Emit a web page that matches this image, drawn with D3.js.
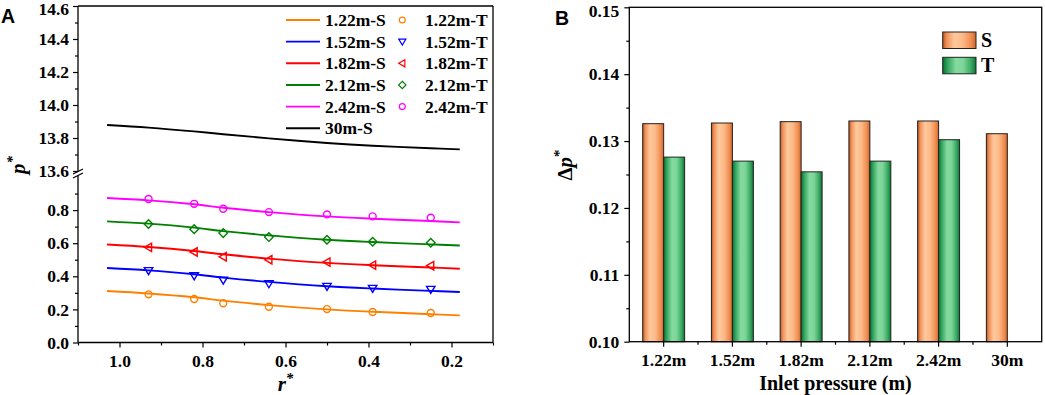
<!DOCTYPE html>
<html><head><meta charset="utf-8">
<script src="https://cdn.jsdelivr.net/npm/d3@7"></script>
<style>
body{margin:0;background:#fff;}
svg{display:block;}
text{font-family:"Liberation Serif","Times New Roman",serif;font-weight:bold;fill:#000;}
</style></head>
<body>
<svg id="c" width="1045" height="395"></svg>
<script>
// ---------- Data: panel A ----------
const rS = [1.03, 0.93, 0.82, 0.75, 0.64, 0.50, 0.39, 0.25, 0.18];
const rT = [0.93, 0.82, 0.75, 0.64, 0.50, 0.39, 0.25];
const s122 = [0.311, 0.296, 0.273, 0.253, 0.226, 0.200, 0.186, 0.171, 0.164];
const s152 = [0.450, 0.436, 0.412, 0.392, 0.366, 0.340, 0.326, 0.312, 0.305];
const s182 = [0.592, 0.577, 0.553, 0.533, 0.507, 0.481, 0.467, 0.453, 0.446];
const s212 = [0.732, 0.718, 0.694, 0.673, 0.647, 0.621, 0.607, 0.593, 0.586];
const s242 = [0.873, 0.859, 0.835, 0.814, 0.788, 0.762, 0.748, 0.734, 0.726];
const s30  = [13.879, 13.863, 13.840, 13.823, 13.798, 13.770, 13.753, 13.738, 13.731];
const t122 = [0.291, 0.263, 0.237, 0.216, 0.202, 0.184, 0.178];
const t152 = [0.434, 0.403, 0.377, 0.355, 0.339, 0.327, 0.321];
const t182 = [0.575, 0.547, 0.518, 0.500, 0.486, 0.468, 0.464];
const t212 = [0.716, 0.685, 0.661, 0.637, 0.621, 0.609, 0.603];
const t242 = [0.867, 0.838, 0.808, 0.788, 0.774, 0.762, 0.754];
const sLabels = ["1.22m-S", "1.52m-S", "1.82m-S", "2.12m-S", "2.42m-S", "30m-S"];
const tLabels = ["1.22m-T", "1.52m-T", "1.82m-T", "2.12m-T", "2.42m-T"];
const xTicksA = [1.0, 0.8, 0.6, 0.4, 0.2];
const xMinorA = [1.1, 0.9, 0.7, 0.5, 0.3, 0.1];
const yTicksLow = [0.0, 0.2, 0.4, 0.6, 0.8];
const yMinorLow = [0.1, 0.3, 0.5, 0.7, 0.9];
const yTicksUp = [13.6, 13.8, 14.0, 14.2, 14.4, 14.6];
const yMinorUp = [13.7, 13.9, 14.1, 14.3, 14.5];

// ---------- Data: panel B ----------
const categories = ["1.22m", "1.52m", "1.82m", "2.12m", "2.42m", "30m"];
const barS = [0.1326, 0.1327, 0.1329, 0.1330, 0.1330, 0.1311];
const barT = [0.1276, 0.1270, 0.1254, 0.1270, 0.1302, null];
const yTicksB = [0.10, 0.11, 0.12, 0.13, 0.14, 0.15];
const yMinorB = [0.105, 0.115, 0.125, 0.135, 0.145];

const svg = d3.select("#c");
const defs = svg.append("defs");

// ================= PANEL A =================
const A = {left: 78, right: 493, top: 6, bottom: 342.5};
const xA = d3.scaleLinear().domain([1.1, 0.1]).range([A.left, A.right]);
const yLow = d3.scaleLinear().domain([0, 1.0]).range([A.bottom, 177]);
const yUp = d3.scaleLinear().domain([13.6, 14.6]).range([171, A.top]);

const gA = svg.append("g");
gA.append("line").attr("x1", A.left).attr("x2", A.right).attr("y1", A.top).attr("y2", A.top).attr("stroke", "#000").attr("stroke-width", 1.3);
gA.append("line").attr("x1", A.right).attr("x2", A.right).attr("y1", A.top).attr("y2", A.bottom).attr("stroke", "#000").attr("stroke-width", 1.3);
gA.append("line").attr("x1", A.left).attr("x2", A.right).attr("y1", A.bottom).attr("y2", A.bottom).attr("stroke", "#000").attr("stroke-width", 1.3);
gA.append("line").attr("x1", A.left).attr("x2", A.left).attr("y1", A.top).attr("y2", 171.5).attr("stroke", "#000").attr("stroke-width", 1.3);
gA.append("line").attr("x1", A.left).attr("x2", A.left).attr("y1", 175.5).attr("y2", A.bottom).attr("stroke", "#000").attr("stroke-width", 1.3);
[171.5, 175.5].forEach(y => {
  gA.append("line").attr("x1", A.left - 5).attr("x2", A.left + 5).attr("y1", y + 2.5).attr("y2", y - 2.5)
    .attr("stroke", "#000").attr("stroke-width", 1.2);
});

function styleAxis(g) {
  g.select(".domain").remove();
  g.selectAll(".tick line").attr("stroke", "#000").attr("stroke-width", 1.2);
  g.selectAll(".tick text").attr("font-size", "17.5px").attr("font-family", "'Liberation Serif',serif").attr("font-weight", "bold").attr("fill", "#000");
}
// keep the topmost tick label inside the picture
function nudgeTop(g, topVal) {
  g.selectAll(".tick").filter(d => Math.abs(d - topVal) < 1e-9).select("text").attr("dy", "0.5em");
}
const fmt1 = d3.format(".1f");
gA.append("g").attr("transform", `translate(${A.left},0)`)
  .call(d3.axisLeft(yUp).tickValues(yTicksUp).tickSize(5).tickPadding(4).tickFormat(fmt1)).call(styleAxis)
  .call(g => nudgeTop(g, 14.6));
gA.append("g").attr("transform", `translate(${A.left},0)`)
  .call(d3.axisLeft(yUp).tickValues(yMinorUp).tickSize(3).tickFormat("")).call(styleAxis);
gA.append("g").attr("transform", `translate(${A.left},0)`)
  .call(d3.axisLeft(yLow).tickValues(yTicksLow).tickSize(5).tickPadding(4).tickFormat(fmt1)).call(styleAxis);
gA.append("g").attr("transform", `translate(${A.left},0)`)
  .call(d3.axisLeft(yLow).tickValues(yMinorLow).tickSize(3).tickFormat("")).call(styleAxis);
gA.append("g").attr("transform", `translate(0,${A.bottom})`)
  .call(d3.axisBottom(xA).tickValues(xTicksA).tickSize(5).tickPadding(7).tickFormat(fmt1)).call(styleAxis);
gA.append("g").attr("transform", `translate(0,${A.bottom})`)
  .call(d3.axisBottom(xA).tickValues(xMinorA).tickSize(3).tickFormat("")).call(styleAxis);

const colors = ["#FF8000", "#0000FF", "#FF0000", "#008000", "#FF00FF", "#000000"];
const sSeries = [s122, s152, s182, s212, s242];
const tSeries = [t122, t152, t182, t212, t242];
const shapes = ["circle", "tdown", "tleft", "diamond", "circle"];

const lineLow = d3.line().x(d => xA(d[0])).y(d => yLow(d[1])).curve(d3.curveCatmullRom);
const lineUp = d3.line().x(d => xA(d[0])).y(d => yUp(d[1])).curve(d3.curveCatmullRom);
sSeries.forEach((s, i) => {
  gA.append("path").datum(rS.map((r, j) => [r, s[j]])).attr("d", lineLow)
    .attr("fill", "none").attr("stroke", colors[i]).attr("stroke-width", 1.9);
});
gA.append("path").datum(rS.map((r, j) => [r, s30[j]])).attr("d", lineUp)
  .attr("fill", "none").attr("stroke", "#000").attr("stroke-width", 1.9);

function markerPath(shape) {
  if (shape === "circle") return d3.symbol(d3.symbolCircle, 38)();
  if (shape === "diamond") return "M0,-4.3L4.3,0L0,4.3L-4.3,0Z";
  if (shape === "tdown") return "M-4.2,-3L4.2,-3L0,4Z";
  if (shape === "tleft") return "M-4.2,0L3,-4.2L3,4.2Z";
}
tSeries.forEach((t, i) => {
  gA.selectAll(null).data(rT.map((r, j) => [r, t[j]])).enter().append("path")
    .attr("d", markerPath(shapes[i]))
    .attr("transform", d => `translate(${xA(d[0])},${yLow(d[1])})`)
    .attr("fill", "none").attr("stroke", colors[i]).attr("stroke-width", 1.4);
});

// legend A
const legRow0 = 20, legStep = 21.65;
sLabels.forEach((lab, i) => {
  const y = legRow0 + i * legStep;
  gA.append("line").attr("x1", 286).attr("x2", 320).attr("y1", y).attr("y2", y).attr("stroke", colors[i]).attr("stroke-width", 1.9);
  gA.append("text").attr("x", 325).attr("y", y + 6).attr("font-size", "17.5px").text(lab);
});
tLabels.forEach((lab, i) => {
  const y = legRow0 + i * legStep;
  gA.append("path").attr("d", markerPath(shapes[i]))
    .attr("fill", "none").attr("stroke", colors[i]).attr("stroke-width", 1.4)
    .attr("transform", `translate(402.3,${y}) scale(0.85)`);
  gA.append("text").attr("x", 425).attr("y", y + 6).attr("font-size", "17.5px").text(lab);
});

// axis titles A
const yt = gA.append("text").attr("transform", "translate(25,165) rotate(-90)").attr("text-anchor", "middle")
  .attr("font-size", "21px").attr("font-style", "italic");
yt.append("tspan").text("p");
yt.append("tspan").attr("dy", "-8").attr("font-size", "15px").text("*");
const xt = gA.append("text").attr("x", 285.5).attr("y", 391).attr("text-anchor", "middle")
  .attr("font-size", "21px").attr("font-style", "italic");
xt.append("tspan").text("r");
xt.append("tspan").attr("dy", "-8").attr("font-size", "15px").text("*");

svg.append("text").attr("x", 1).attr("y", 23).attr("font-size", "19.5px")
  .style("font-family", "'Liberation Sans',Arial,sans-serif").text("A");

// ================= PANEL B =================
const B = {left: 629.3, right: 1041.7, top: 7.3, bottom: 341.7};
const xB = d3.scaleBand().domain(categories).range([B.left, B.right]).padding(0);
const yB = d3.scaleLinear().domain([0.10, 0.15]).range([B.bottom, B.top]);
const gB = svg.append("g");

function grad(id, stops) {
  const g = defs.append("linearGradient").attr("id", id).attr("x1", "0").attr("x2", "1").attr("y1", "0").attr("y2", "0");
  stops.forEach(s => g.append("stop").attr("offset", s[0]).attr("stop-color", s[1]));
}
grad("gS", [["0", "#BF531B"], ["0.12", "#EE9058"], ["0.35", "#FFC99C"], ["0.6", "#FDBA88"], ["0.85", "#F08E52"], ["1", "#D3652A"]]);
grad("gT", [["0", "#06712F"], ["0.15", "#33A65E"], ["0.4", "#85DAA0"], ["0.62", "#7CD598"], ["0.85", "#3AAA62"], ["1", "#0B7638"]]);

const bw = xB.bandwidth() * 0.305;
gB.selectAll(".bs").data(categories).enter().append("rect")
  .attr("x", d => xB(d) + xB.bandwidth() / 2 - bw)
  .attr("width", bw)
  .attr("y", (d, i) => yB(barS[i]))
  .attr("height", (d, i) => yB(0.10) - yB(barS[i]))
  .attr("fill", "url(#gS)").attr("stroke", "#222").attr("stroke-width", 1);
gB.selectAll(".bt").data(categories.filter((d, i) => barT[i] != null)).enter().append("rect")
  .attr("x", d => xB(d) + xB.bandwidth() / 2)
  .attr("width", bw)
  .attr("y", (d, i) => yB(barT[i]))
  .attr("height", (d, i) => yB(0.10) - yB(barT[i]))
  .attr("fill", "url(#gT)").attr("stroke", "#222").attr("stroke-width", 1);

gB.append("rect").attr("x", B.left).attr("y", B.top).attr("width", B.right - B.left).attr("height", B.bottom - B.top)
  .attr("fill", "none").attr("stroke", "#000").attr("stroke-width", 1.3);

const fmt2 = d3.format(".2f");
gB.append("g").attr("transform", `translate(${B.left},0)`)
  .call(d3.axisLeft(yB).tickValues(yTicksB).tickSize(5).tickPadding(5).tickFormat(fmt2)).call(styleAxis)
  .call(g => nudgeTop(g, 0.15));
gB.append("g").attr("transform", `translate(${B.left},0)`)
  .call(d3.axisLeft(yB).tickValues(yMinorB).tickSize(3).tickFormat("")).call(styleAxis);
gB.append("g").attr("transform", `translate(0,${B.bottom})`)
  .call(d3.axisBottom(xB).tickSize(5).tickPadding(7)).call(styleAxis);
const bounds = categories.slice(1).map(d => xB(d));
gB.append("g").selectAll("line").data(bounds).enter().append("line")
  .attr("x1", d => d).attr("x2", d => d).attr("y1", B.bottom).attr("y2", B.bottom + 3)
  .attr("stroke", "#000").attr("stroke-width", 1.2);

// legend B
[["S", "url(#gS)", 32], ["T", "url(#gT)", 57.3]].forEach(l => {
  gB.append("rect").attr("x", 942.7).attr("y", l[2]).attr("width", 33.3).attr("height", 16.5)
    .attr("fill", l[1]).attr("stroke", "#222").attr("stroke-width", 1);
  gB.append("text").attr("x", 981).attr("y", l[2] + 15).attr("font-size", "20px").text(l[0]);
});

// axis titles B
const ytB = gB.append("text").attr("transform", "translate(572,165) rotate(-90)").attr("text-anchor", "middle")
  .attr("font-size", "21px");
ytB.append("tspan").text("Δ");
ytB.append("tspan").attr("font-style", "italic").text("p");
ytB.append("tspan").attr("dy", "-8").attr("font-size", "15px").text("*");
gB.append("text").attr("x", 835.5).attr("y", 390).attr("text-anchor", "middle").attr("font-size", "20px").text("Inlet pressure (m)");

svg.append("text").attr("x", 555).attr("y", 25).attr("font-size", "19.5px")
  .style("font-family", "'Liberation Sans',Arial,sans-serif").text("B");
</script>
</body></html>
